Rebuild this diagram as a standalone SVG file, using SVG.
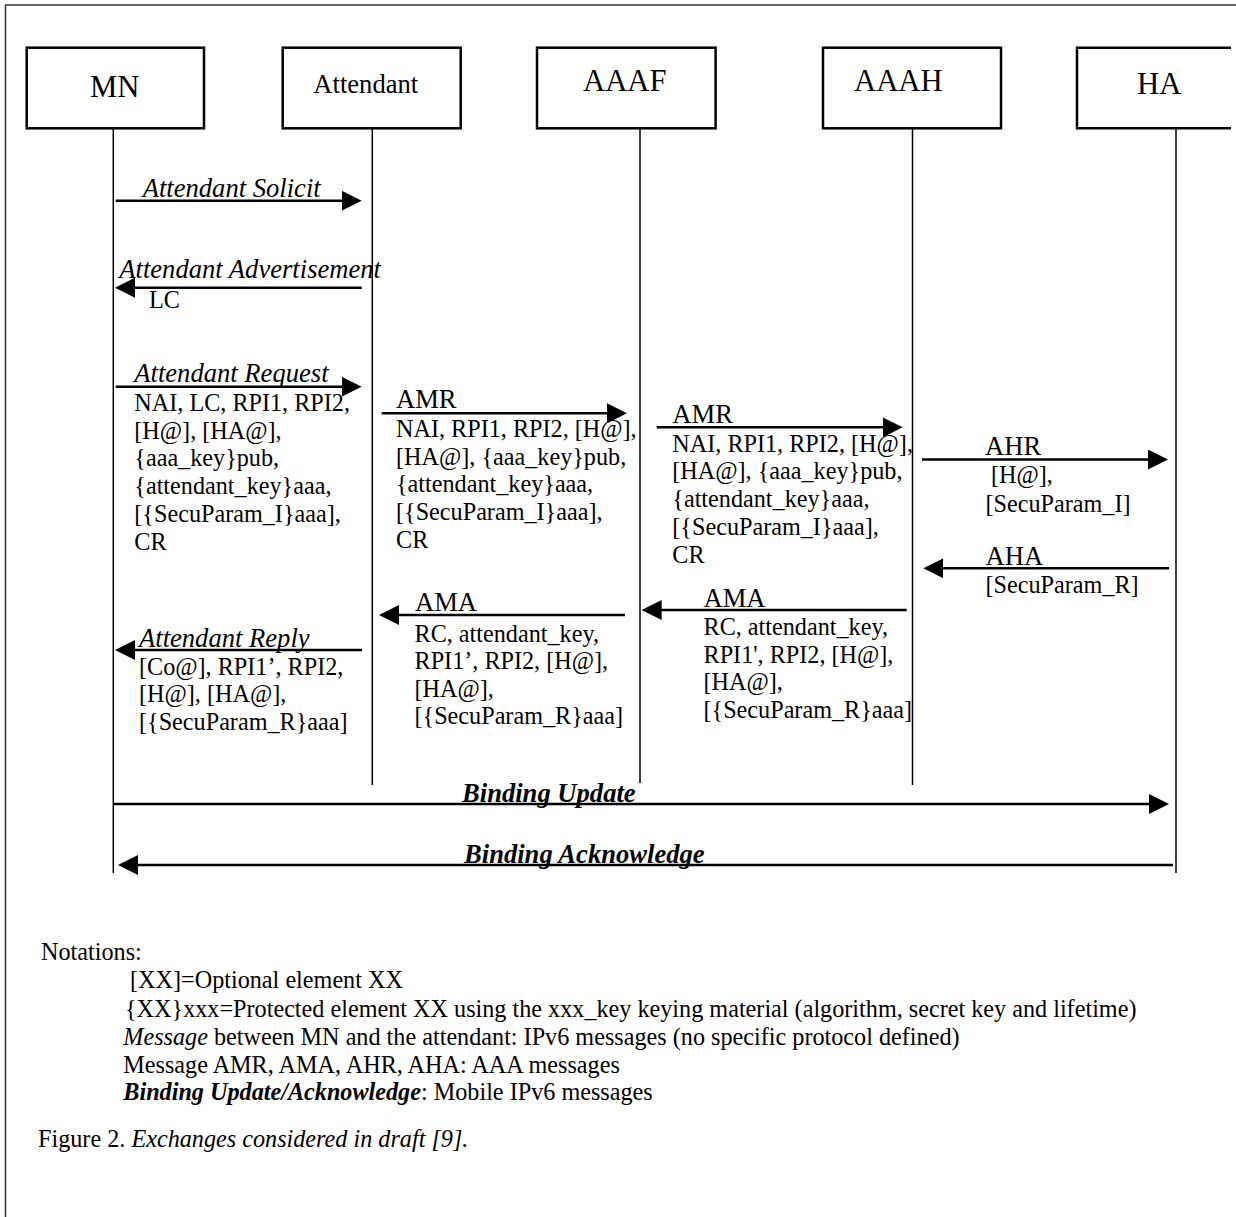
<svg xmlns="http://www.w3.org/2000/svg" width="1236" height="1217" viewBox="0 0 1236 1217">
<style>
  .frame{fill:none;stroke:#333;stroke-width:1.5}
  .box{fill:#fff;stroke:#000;stroke-width:2.5}
  .life{stroke:#000;stroke-width:1.5;fill:none}
  .msg{stroke:#000;stroke-width:2.5;fill:none;marker-end:url(#ah)}
  text{font-family:"Liberation Serif","Times New Roman",serif;fill:#000}
  .t{font-size:24.2px}
  .lbl{font-size:26.6px}
  .big{font-size:30.7px}
  .it{font-style:italic}
  .bi{font-style:italic;font-weight:bold}
</style>
<defs>
  <marker id="ah" markerUnits="userSpaceOnUse" markerWidth="20" markerHeight="20" refX="10" refY="10" orient="auto" viewBox="0 0 20 20">
    <path d="M0,0 L20,10 L0,20 Z" fill="#000"/>
  </marker>
</defs>
<rect width="1236" height="1217" fill="#fff"/>
<path class="frame" d="M1236,5 H5.5 V1217"/>

<g id="node-MN">
  <rect class="box" x="26.7" y="47.7" width="177.3" height="80.6"/>
  <text class="big" x="90" y="96.7">MN</text>
  <line class="life" x1="113.3" y1="128.3" x2="113.3" y2="873"/>
</g>
<g id="node-Attendant">
  <rect class="box" x="282.7" y="47.7" width="178" height="80.6"/>
  <text class="lbl" x="313.3" y="93.3">Attendant</text>
  <line class="life" x1="372.3" y1="128.3" x2="372.3" y2="785"/>
</g>
<g id="node-AAAF">
  <rect class="box" x="537" y="47.7" width="178.6" height="80.6"/>
  <text class="big" x="583" y="90.5">AAAF</text>
  <line class="life" x1="640" y1="128.3" x2="640" y2="783"/>
</g>
<g id="node-AAAH">
  <rect class="box" x="823" y="47.7" width="178" height="80.6"/>
  <text class="big" x="854" y="91">AAAH</text>
  <line class="life" x1="912.5" y1="128.3" x2="912.5" y2="785"/>
</g>
<g id="node-HA">
  <path class="box" d="M1231,47.7 H1077 V128.3 H1231"/>
  <text class="big" x="1137" y="93.5">HA</text>
  <line class="life" x1="1176" y1="128.3" x2="1176" y2="873"/>
</g>

<g id="connectors">
  <line class="msg" x1="115.7" y1="200.7" x2="351.7" y2="200.7"/>
  <line class="msg" x1="361.7" y1="287.7" x2="125" y2="287.7"/>
  <line class="msg" x1="115.7" y1="386.7" x2="351.7" y2="386.7"/>
  <line class="msg" x1="381.7" y1="413.3" x2="617" y2="413.3"/>
  <line class="msg" x1="656.7" y1="427.3" x2="892.7" y2="427.3"/>
  <line class="msg" x1="922" y1="459.5" x2="1158" y2="459.5"/>
  <line class="msg" x1="1169" y1="568.3" x2="933.3" y2="568.3"/>
  <line class="msg" x1="906.7" y1="610" x2="651.7" y2="610"/>
  <line class="msg" x1="625" y1="615" x2="389" y2="615"/>
  <line class="msg" x1="362" y1="650" x2="125" y2="650"/>
  <line class="msg" x1="113.3" y1="804" x2="1159" y2="804"/>
  <line class="msg" x1="1173" y1="865" x2="128" y2="865"/>
</g>

<g id="labels">
  <text class="lbl it" x="142.7" y="196.7">Attendant Solicit</text>
  <text class="lbl it" x="119.3" y="278.3">Attendant Advertisement</text>
  <text class="t" x="149" y="307.7">LC</text>

  <text class="lbl it" x="134.3" y="381.7">Attendant Request</text>
  <text class="t">
    <tspan x="134.3" y="411">NAI, LC, RPI1, RPI2,</tspan>
    <tspan x="134.3" y="438.7">[H@], [HA@],</tspan>
    <tspan x="134.3" y="466.4">{aaa_key}pub,</tspan>
    <tspan x="134.3" y="494.1">{attendant_key}aaa,</tspan>
    <tspan x="134.3" y="521.8">[{SecuParam_I}aaa],</tspan>
    <tspan x="134.3" y="549.5">CR</tspan>
  </text>

  <text class="lbl" x="396" y="408.3">AMR</text>
  <text class="t">
    <tspan x="396" y="437">NAI, RPI1, RPI2, [H@],</tspan>
    <tspan x="396" y="464.7">[HA@], {aaa_key}pub,</tspan>
    <tspan x="396" y="492.4">{attendant_key}aaa,</tspan>
    <tspan x="396" y="520.1">[{SecuParam_I}aaa],</tspan>
    <tspan x="396" y="547.8">CR</tspan>
  </text>

  <text class="lbl" x="672.3" y="422.7">AMR</text>
  <text class="t">
    <tspan x="672.3" y="451.7">NAI, RPI1, RPI2, [H@],</tspan>
    <tspan x="672.3" y="479.4">[HA@], {aaa_key}pub,</tspan>
    <tspan x="672.3" y="507.1">{attendant_key}aaa,</tspan>
    <tspan x="672.3" y="534.8">[{SecuParam_I}aaa],</tspan>
    <tspan x="672.3" y="562.5">CR</tspan>
  </text>

  <text class="lbl" x="985" y="455">AHR</text>
  <text class="t">
    <tspan x="991" y="483">[H@],</tspan>
    <tspan x="985.5" y="511.5">[SecuParam_I]</tspan>
  </text>

  <text class="lbl" x="985.5" y="565">AHA</text>
  <text class="t" x="985.5" y="593.3">[SecuParam_R]</text>

  <text class="lbl" x="703.5" y="607">AMA</text>
  <text class="t">
    <tspan x="703.5" y="635">RC, attendant_key,</tspan>
    <tspan x="703.5" y="662.7">RPI1', RPI2, [H@],</tspan>
    <tspan x="703.5" y="690.4">[HA@],</tspan>
    <tspan x="703.5" y="718.1">[{SecuParam_R}aaa]</tspan>
  </text>

  <text class="lbl" x="415" y="611">AMA</text>
  <text class="t">
    <tspan x="414.5" y="641.5">RC, attendant_key,</tspan>
    <tspan x="414.5" y="669">RPI1’, RPI2, [H@],</tspan>
    <tspan x="414.5" y="696.5">[HA@],</tspan>
    <tspan x="414.5" y="724">[{SecuParam_R}aaa]</tspan>
  </text>

  <text class="lbl it" x="139" y="646.7">Attendant Reply</text>
  <text class="t">
    <tspan x="139" y="674.5">[Co@], RPI1’, RPI2,</tspan>
    <tspan x="139" y="702">[H@], [HA@],</tspan>
    <tspan x="139" y="729.5">[{SecuParam_R}aaa]</tspan>
  </text>

  <text class="lbl bi" x="462" y="802">Binding Update</text>
  <text class="lbl bi" x="464" y="863">Binding Acknowledge</text>
</g>

<g id="notes">
  <text class="t" x="41" y="960">Notations:</text>
  <text class="t" x="130" y="988.3">[XX]=Optional element XX</text>
  <text class="t" x="125" y="1017">{XX}xxx=Protected element XX using the xxx_key keying material (algorithm, secret key and lifetime)</text>
  <text class="t" x="123.3" y="1045"><tspan class="it">Message</tspan> between MN and the attendant: IPv6 messages (no specific protocol defined)</text>
  <text class="t" x="123.3" y="1073">Message AMR, AMA, AHR, AHA: AAA messages</text>
  <text class="t" x="123.3" y="1100"><tspan class="bi">Binding Update/Acknowledge</tspan>: Mobile IPv6 messages</text>
  <text class="t" x="38" y="1147">Figure 2. <tspan class="it">Exchanges considered in draft [9].</tspan></text>
</g>
</svg>
